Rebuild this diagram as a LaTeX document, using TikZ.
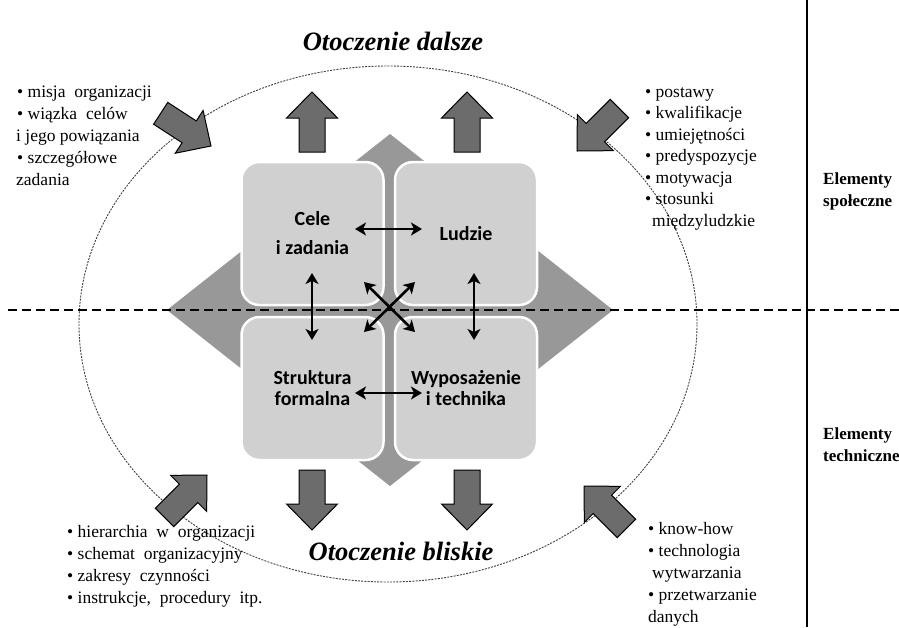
\documentclass[tikz,border=0pt]{standalone}
\usepackage{fontspec}
\setmainfont{Liberation Serif}
\newfontfamily\boxfont{Carlito}
\usetikzlibrary{arrows.meta}
\definecolor{boxgray}{RGB}{208,208,208}
\definecolor{diagray}{RGB}{152,152,152}
\definecolor{arrgray}{RGB}{108,108,108}
\begin{document}
\begin{tikzpicture}[x=1pt,y=-1pt,
 quad/.style={draw=white, line width=2.5pt, fill=boxgray, rounded corners=18pt,
   minimum width=142pt, minimum height=143pt, inner sep=0pt, align=center,
   font=\boxfont\bfseries\fontsize{20}{21}\selectfont},
 side/.style={anchor=base west, inner sep=0pt, font=\fontsize{17.5}{21}\selectfont},
 elem/.style={anchor=base west, inner sep=0pt, font=\bfseries\fontsize{17}{20}\selectfont},
 title/.style={anchor=base, inner sep=0pt, font=\bfseries\itshape\fontsize{26.5}{30}\selectfont},
 blockarrow/.style={fill=arrgray, draw=black, line width=1pt, line join=miter},
 link/.style={line width=2.6pt, {Stealth[length=11pt,width=13pt,inset=3pt]}-{Stealth[length=11pt,width=13pt,inset=3pt]}}
]
\useasboundingbox[fill=white] (0,0) rectangle (899,627);

% outer ellipse
\draw[dash pattern=on 2pt off 1.2pt, line width=0.9pt, black!75] (388,324) ellipse [x radius=309pt, y radius=258pt];

% diamond
\fill[diagray] (390,134) -- (613,310) -- (390,486) -- (167,310) -- cycle;

% quadrant boxes
\node[quad] (cele) at (312.5,233.5) {Cele\\[8pt]i zadania};
\node[quad] (ludzie) at (466,233.5) {Ludzie};
\node[quad] (struk) at (312.5,388.5) {Struktura\\formalna};
\node[quad] (wypos) at (466,388.5) {Wyposażenie\\i technika};

% separators
\draw[line width=2pt, dash pattern=on 9pt off 5pt] (8,310) -- (899,310);
\draw[line width=2pt] (807,0) -- (807,627);

% internal double arrows
\coordinate (h1a) at (355,229); \coordinate (h1b) at (422,229);
\coordinate (h2a) at (355,393); \coordinate (h2b) at (422,393);
\coordinate (v1a) at (312,273); \coordinate (v1b) at (312,340);
\coordinate (v2a) at (474,273); \coordinate (v2b) at (474,340);
\coordinate (d1a) at (364,282); \coordinate (d1b) at (415,332);
\coordinate (d2a) at (415,282); \coordinate (d2b) at (364,332);
\draw[link] (h1a) -- (h1b);
\draw[link] (h2a) -- (h2b);
\draw[link] (v1a) -- (v1b);
\draw[link] (v2a) -- (v2b);
\draw[link] (d1a) -- (d1b);
\draw[link] (d2a) -- (d2b);

% block arrows (shape: tip at origin, pointing +x)
\def\barrow{(0,0) -- (-26,25.5) -- (-26,13) -- (-60,13) -- (-60,-13) -- (-26,-13) -- (-26,-25.5) -- cycle}
\draw[blockarrow, shift={(312,92)}, rotate=90] \barrow;
\draw[blockarrow, shift={(467,92)}, rotate=90] \barrow;
\draw[blockarrow, shift={(312,530)}, rotate=-90] \barrow;
\draw[blockarrow, shift={(467,530)}, rotate=-90] \barrow;
\draw[blockarrow, shift={(211,146)}, rotate=-33] \barrow;
\draw[blockarrow, shift={(577,151)}, rotate=-135] \barrow;
\draw[blockarrow, shift={(207,475)}, rotate=45] \barrow;
\draw[blockarrow, shift={(584,486)}, rotate=135] \barrow;

% titles
\node[title] (dalsze) at (393,50) {Otoczenie dalsze};
\node[title] (bliskie) at (401,560) {Otoczenie bliskie};

% top-left list
\node[side] (tl1) at (17,97) {• misja \ organizacji};
\node[side] (tl2) at (17,119) {• wiązka \ celów};
\node[side] (tl3) at (16,141) {i jego powiązania};
\node[side] (tl4) at (17,163) {• szczegółowe};
\node[side] (tl5) at (16,185) {zadania};

% top-right list
\node[side] (tr1) at (645,97) {• postawy};
\node[side] (tr2) at (645,118.5) {• kwalifikacje};
\node[side] (tr3) at (645,140) {• umiejętności};
\node[side] (tr4) at (645,161.5) {• predyspozycje};
\node[side] (tr5) at (645,183) {• motywacja};
\node[side] (tr6) at (645,204.5) {• stosunki};
\node[side] (tr7) at (652,226) {międzyludzkie};

% bottom-left list
\node[side] (bl1) at (67,537) {• hierarchia \ w \ organizacji};
\node[side] (bl2) at (67,559) {• schemat \ organizacyjny};
\node[side] (bl3) at (67,581) {• zakresy \ czynności};
\node[side] (bl4) at (67,603) {• instrukcje, \ procedury \ itp.};

% bottom-right list
\node[side] (br1) at (648,534) {• know-how};
\node[side] (br2) at (648,556) {• technologia};
\node[side] (br3) at (652,578) {wytwarzania};
\node[side] (br4) at (648,600) {• przetwarzanie};
\node[side] (br5) at (648,622) {danych};

% right labels
\node[elem] (es1) at (823,184) {Elementy};
\node[elem] (es2) at (823,206) {społeczne};
\node[elem] (et1) at (823,439) {Elementy};
\node[elem] (et2) at (823,461) {techniczne};
\end{tikzpicture}
\end{document}
